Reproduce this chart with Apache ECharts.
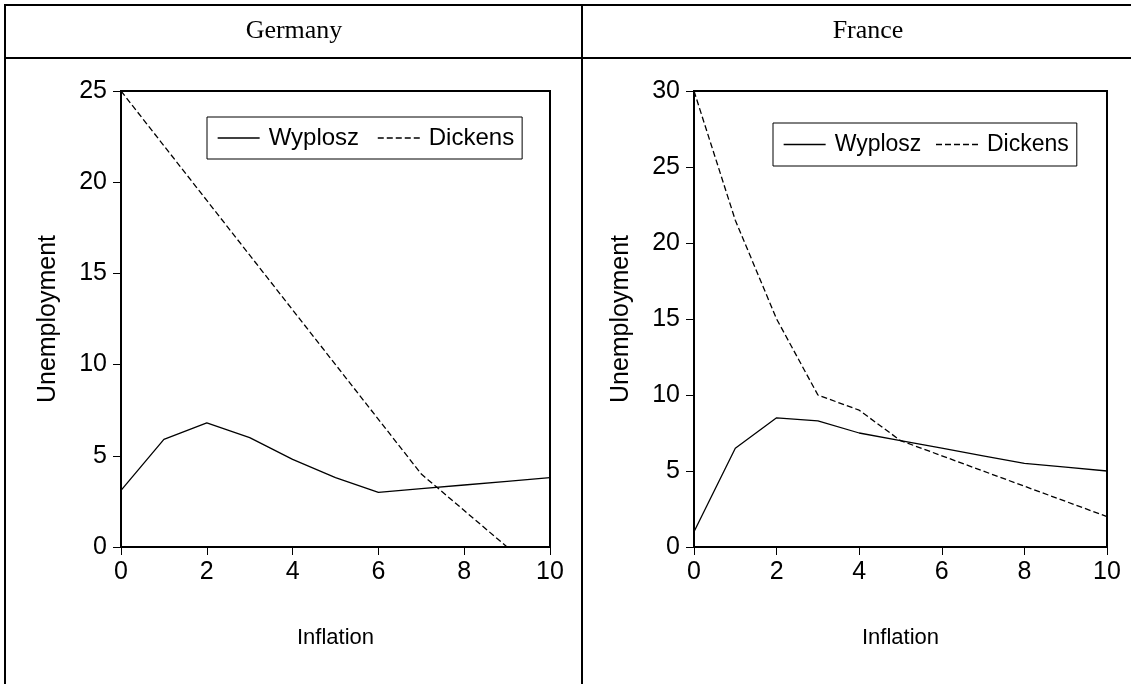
<!DOCTYPE html>
<html>
<head>
<meta charset="utf-8">
<script src="https://cdn.jsdelivr.net/npm/echarts@6/dist/echarts.min.js"></script>
<style>
html,body{margin:0;padding:0;background:#fff;}
#chart{width:1131px;height:684px;}
</style>
</head>
<body>
<div id="chart"></div>
<script>
// ---- data ----
const inflation = [0, 1, 2, 3, 4, 5, 6, 7, 8, 9, 10];
const seriesNames = ['Wyplosz', 'Dickens'];
const panelTitles = ['Germany', 'France'];
const germanyWyplosz = [3.1, 5.9, 6.8, 6.0, 4.8, 3.8, 3.0, 3.2, 3.4, 3.6, 3.8];
const germanyDickens = [25, 22, 19, 16, 13, 10, 7, 4, 2, 0, 0];
const franceWyplosz = [1.0, 6.5, 8.5, 8.3, 7.5, 7.0, 6.5, 6.0, 5.5, 5.25, 5.0];
const franceDickens = [30, 21.5, 15, 10, 9, 7, 6, 5, 4, 3, 2];
const yMax = [25, 30];
const xTitle = 'Inflation';
const yTitle = 'Unemployment';

const pair = (xs, ys) => xs.map((x, i) => [x, ys[i]]);
const SANS = '"Liberation Sans", Arial, sans-serif';
const SERIF = '"Liberation Serif", "Times New Roman", serif';

const grids = [
  {left: 121, top: 91, width: 429, height: 456},
  {left: 694, top: 91, width: 413, height: 456}
];

function xAxis(i) {
  return {
    gridIndex: i, type: 'value', min: 0, max: 10, interval: 2,
    name: xTitle, nameLocation: 'middle', nameGap: 80,
    nameTextStyle: {fontFamily: SANS, fontSize: 22, color: '#000'},
    axisLine: {show: true, onZero: false, lineStyle: {color: '#000', width: 2}},
    axisTick: {show: true, inside: false, length: 8, lineStyle: {color: '#000', width: 1}},
    axisLabel: {fontFamily: SANS, fontSize: 25, color: '#000', margin: 13},
    splitLine: {show: false}
  };
}
function yAxis(i) {
  return {
    gridIndex: i, type: 'value', min: 0, max: yMax[i], interval: 5,
    name: yTitle, nameLocation: 'middle', nameGap: 60, nameRotate: 90,
    nameTextStyle: {fontFamily: SANS, fontSize: 25, color: '#000'},
    axisLine: {show: true, onZero: false, lineStyle: {color: '#000', width: 2}},
    axisTick: {show: true, inside: false, length: 8, lineStyle: {color: '#000', width: 1}},
    axisLabel: {fontFamily: SANS, fontSize: 25, color: '#000', margin: 14},
    splitLine: {show: false}
  };
}
function mkSeries(name, data, gi, dashed) {
  return {
    name: name, type: 'line', xAxisIndex: gi, yAxisIndex: gi,
    data: data, symbol: 'none', showSymbol: false, silent: true, animation: false, z: 5,
    lineStyle: {color: '#000', width: 1.3, type: dashed ? [6, 3] : 'solid'},
    itemStyle: {color: '#000'}
  };
}
function legend(left, top, fontSize, gap, padV) {
  return {
    data: seriesNames, left: left, top: top, orient: 'horizontal',
    itemWidth: 42, itemHeight: 14, itemGap: gap,
    padding: [padV, 8, padV, 10],
    borderColor: '#000', borderWidth: 1, backgroundColor: '#fff',
    selectedMode: false,
    itemStyle: {opacity: 0, borderWidth: 0},
    lineStyle: {width: 1.3},
    textStyle: {fontFamily: SANS, fontSize: fontSize, color: '#000', padding: [0, 0, 0, 4]}
  };
}

const L = (x1, y1, x2, y2) => ({
  type: 'line', shape: {x1, y1, x2, y2},
  style: {stroke: '#000', lineWidth: 2}, silent: true
});
const T = (text, cx, cy) => ({
  type: 'text', x: cx, y: cy,
  style: {text: text, font: '26px ' + SERIF, fill: '#000', align: 'center', verticalAlign: 'middle'},
  silent: true
});

const chart = echarts.init(document.getElementById('chart'), null, {renderer: 'canvas'});
chart.setOption({
  animation: false,
  backgroundColor: '#fff',
  grid: grids.map(g => Object.assign({show: true, borderColor: '#000', borderWidth: 2, backgroundColor: 'transparent'}, g)),
  xAxis: [xAxis(0), xAxis(1)],
  yAxis: [yAxis(0), yAxis(1)],
  legend: [legend(207, 117, 24, 18, 9), legend(773, 123, 23, 14, 10)],
  series: [
    mkSeries(seriesNames[0], pair(inflation, germanyWyplosz), 0, false),
    mkSeries(seriesNames[1], pair(inflation, germanyDickens), 0, true),
    mkSeries(seriesNames[0], pair(inflation, franceWyplosz), 1, false),
    mkSeries(seriesNames[1], pair(inflation, franceDickens), 1, true)
  ],
  graphic: [
    L(4, 5, 1131, 5),
    L(5, 4, 5, 684),
    L(4, 58, 1131, 58),
    L(582, 4, 582, 684),
    T(panelTitles[0], 294, 31),
    T(panelTitles[1], 868, 31)
  ]
});
</script>
</body>
</html>
